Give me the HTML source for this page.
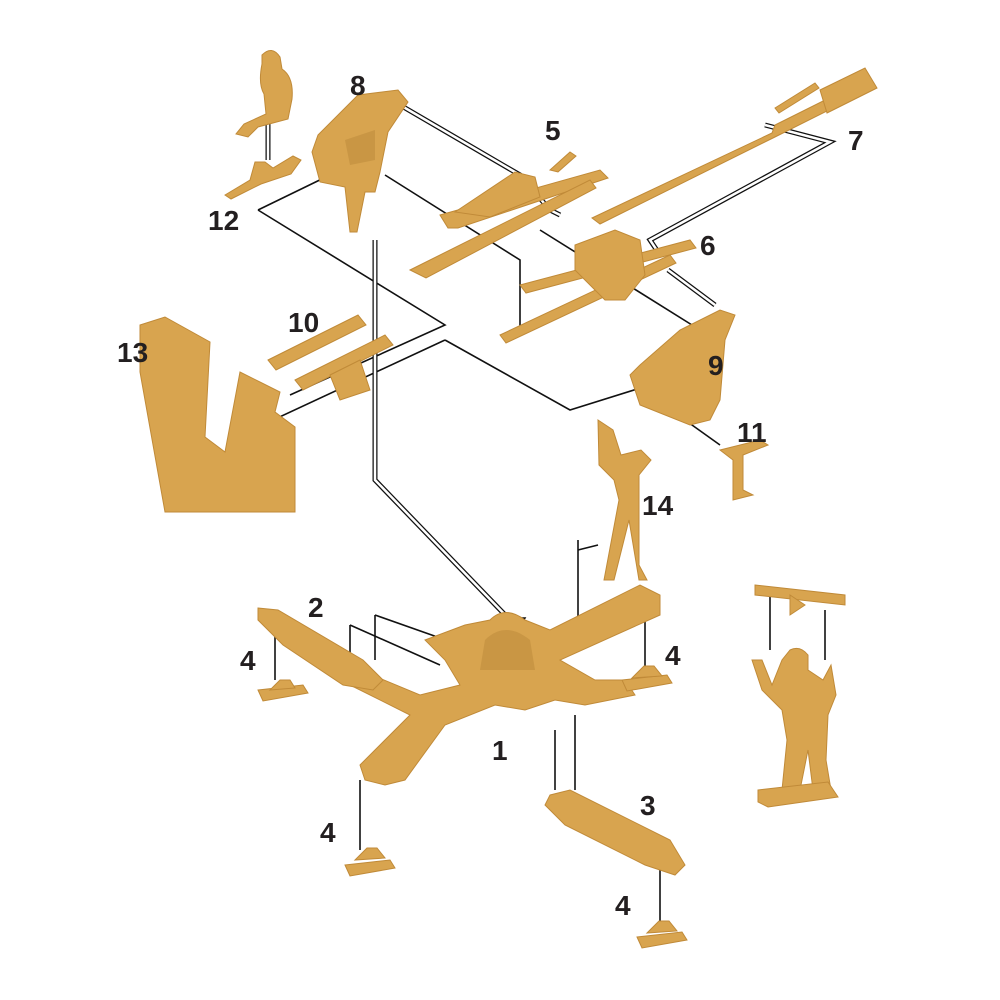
<!DOCTYPE html>
<html><head><meta charset="utf-8"><style>
html,body{margin:0;padding:0;background:#fff;width:1000px;height:1000px;overflow:hidden}
svg{display:block}
text{font-family:"Liberation Sans",sans-serif;font-weight:bold;font-size:28px;fill:#231f20}
.p{fill:#d8a44f;stroke:#c08a38;stroke-width:1}
.d{fill:#b9873a}
.l{fill:none;stroke:#111;stroke-width:1.6}
.w{fill:none;stroke:#111;stroke-width:5}
.wi{fill:none;stroke:#fff;stroke-width:2.5}
</style></head><body>
<svg width="1000" height="1000" viewBox="0 0 1000 1000" xmlns="http://www.w3.org/2000/svg">
<polyline class="l" points="258,210 330,175"/>
<polyline class="l" points="258,210 445,325 290,395"/>
<polyline class="l" points="445,340 230,440"/>
<polyline class="l" points="445,340 570,410 650,385"/>
<polyline class="l" points="385,175 520,260 520,330"/>
<polyline class="l" points="540,230 700,330"/>
<polyline class="l" points="350,625 350,680"/>
<polyline class="l" points="350,625 440,665"/>
<polyline class="l" points="375,615 375,660"/>
<polyline class="l" points="375,615 460,645"/>
<polyline class="l" points="578,540 578,620"/>
<polyline class="l" points="598,545 578,550"/>
<polyline class="l" points="555,730 555,790"/>
<polyline class="l" points="575,715 575,790"/>
<polyline class="l" points="275,620 275,680"/>
<polyline class="l" points="645,600 645,670"/>
<polyline class="l" points="360,780 360,850"/>
<polyline class="l" points="660,855 660,925"/>
<polyline class="l" points="770,590 770,650"/>
<polyline class="l" points="825,610 825,660"/>
<polyline class="l" points="650,395 720,445"/>
<g>
<polyline class="w" points="375,240 375,480 510,620"/>
<polyline class="wi" points="375,240 375,480 510,620"/>
<polyline class="w" points="400,105 520,175 550,210 560,215"/>
<polyline class="wi" points="400,105 520,175 550,210 560,215"/>
<polyline class="w" points="765,125 830,142 650,240 660,255"/>
<polyline class="wi" points="765,125 830,142 650,240 660,255"/>
<polyline class="w" points="668,270 715,305"/>
<polyline class="wi" points="668,270 715,305"/>
<polyline class="w" points="268,110 268,160"/>
<polyline class="wi" points="268,110 268,160"/>
</g>
<polygon points="495,618 510,642 525,618" fill="#fff" stroke="#111" stroke-width="1.5"/>
<path class="p" d="M262,55 q10,-10 18,2 l2,12 q12,8 10,30 l-4,20 -30,8 -10,10 -12,-3 8,-10 22,-10 -2,-20 q-6,-10 -2,-30z"/>
<path class="p" d="M225,195 l25,-15 5,-18 10,0 8,6 20,-12 8,4 -10,14 -30,10 -30,15z"/>
<path class="p" d="M318,135 l40,-40 40,-5 10,12 -20,30 -8,40 -5,20 -10,0 -8,40 -7,0 -5,-45 -25,-5 -8,-30z"/>
<path class="d" d="M345,140 l30,-10 0,30 -25,5z" opacity=".5"/>
<path class="p" d="M440,215 l160,-45 8,8 -150,50 -10,0z"/>
<path class="p" d="M410,270 l180,-90 6,8 -170,90z"/>
<path class="p" d="M455,212 l60,-40 20,5 5,20 -50,20z"/>
<path class="p" d="M550,170 l20,-18 6,4 -18,16z"/>
<path class="p" d="M592,218 l180,-85 3,-8 80,-40 0,12 -80,40 -175,87z"/>
<path class="p" d="M820,90 l45,-22 12,20 -50,25z"/>
<path class="p" d="M775,108 l40,-25 4,5 -40,25z"/>
<path class="p" d="M520,285 l170,-45 6,8 -170,45z"/>
<path class="p" d="M500,335 l170,-80 6,8 -170,80z"/>
<path class="p" d="M575,245 l40,-15 25,10 5,35 -20,25 -20,0 -30,-30z"/>
<path class="p" d="M640,365 l40,-35 40,-20 15,5 -10,25 -5,60 -10,20 -20,5 -50,-20 -10,-30z"/>
<path class="p" d="M720,450 l40,-10 8,5 -25,10 0,35 10,5 -20,5 0,-40z"/>
<path class="p" d="M268,360 l90,-45 8,10 -90,45z"/>
<path class="p" d="M295,380 l90,-45 8,10 -90,45z"/>
<path class="p" d="M330,375 l30,-15 10,30 -30,10z"/>
<path class="p" d="M140,325 l25,-8 45,25 -5,95 20,15 15,-80 40,20 -5,20 20,15 0,85 -130,0 -25,-140z"/>
<path class="p" d="M598,420 l15,10 8,25 20,-5 10,10 -12,15 0,90 8,15 -8,0 -10,-60 -15,60 -10,0 15,-80 -5,-20 -15,-15z"/>
<path class="p" d="M425,640 l40,-15 25,-5 q15,-15 35,0 l25,10 90,-45 20,10 0,20 -100,45 35,20 30,0 10,15 -50,10 -30,-5 -30,10 -30,-5 -50,20 -40,55 -20,5 -20,-5 -5,-15 50,-50 -60,-30 10,-15 60,25 40,-10 -15,-25z"/>
<path class="d" d="M485,640 q20,-20 45,0 l5,30 -55,0z" opacity=".5"/>
<path class="p" d="M258,608 l20,2 85,50 20,20 -10,10 -30,-5 -60,-40 -25,-25z"/>
<path class="p" d="M550,795 l20,-5 100,50 15,25 -10,10 -30,-10 -80,-40 -20,-20z"/>
<path class="p" d="M258,690 l45,-5 5,8 -45,8z"/>
<path class="p" d="M270,690 l10,-10 10,0 5,8z"/>
<path class="p" d="M622,680 l45,-5 5,8 -45,8z"/>
<path class="p" d="M632,678 l12,-12 10,0 8,10z"/>
<path class="p" d="M345,865 l45,-5 5,8 -45,8z"/>
<path class="p" d="M355,860 l12,-12 10,0 8,10z"/>
<path class="p" d="M637,937 l45,-5 5,8 -45,8z"/>
<path class="p" d="M647,933 l12,-12 10,0 8,10z"/>
<path class="p" d="M755,585 l90,10 0,10 -90,-10z"/>
<path class="p" d="M790,595 l15,10 -15,10z"/>
<path class="p" d="M790,650 q10,-5 18,5 l0,15 15,10 8,-15 5,30 -8,20 -2,45 5,30 -18,0 -5,-40 -8,40 -18,0 5,-50 -5,-30 -20,-20 -10,-30 10,0 10,25 10,-25z"/>
<path class="p" d="M758,790 l70,-8 10,15 -70,10 -10,-5z"/>
<text x="350" y="95">8</text>
<text x="545" y="140">5</text>
<text x="848" y="150">7</text>
<text x="700" y="255">6</text>
<text x="208" y="230">12</text>
<text x="288" y="332">10</text>
<text x="117" y="362">13</text>
<text x="708" y="375">9</text>
<text x="737" y="442">11</text>
<text x="642" y="515">14</text>
<text x="308" y="617">2</text>
<text x="240" y="670">4</text>
<text x="665" y="665">4</text>
<text x="492" y="760">1</text>
<text x="640" y="815">3</text>
<text x="320" y="842">4</text>
<text x="615" y="915">4</text>
</svg>
</body></html>
